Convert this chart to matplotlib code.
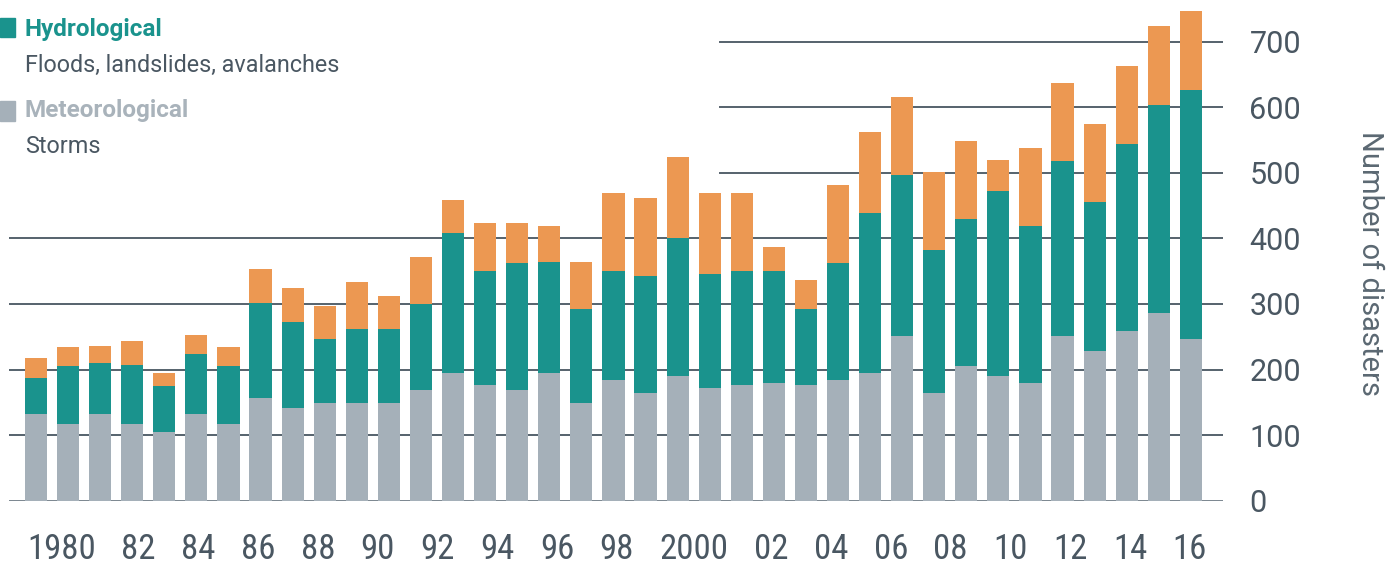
import matplotlib
matplotlib.use("Agg")
import matplotlib.pyplot as plt
from matplotlib.patches import Rectangle
from matplotlib import font_manager
import numpy as np

# ---------------- data ----------------
years = list(range(1980, 2017))
meteorological = [132, 117, 132, 117, 105, 132, 117, 157, 141, 149, 149, 149, 169, 195, 177, 169,
                  195, 149, 184, 164, 190, 172, 177, 180, 177, 184, 195, 251, 164, 205, 190, 180,
                  251, 228, 259, 286, 247]
hydrological = [55, 88, 78, 90, 70, 92, 88, 145, 132, 98, 113, 113, 131, 213, 173, 194,
                169, 143, 166, 179, 211, 174, 173, 170, 115, 179, 244, 245, 218, 224, 282, 239,
                267, 228, 285, 318, 379]
climatological = [31, 29, 26, 37, 20, 29, 29, 51, 51, 50, 72, 50, 72, 51, 74, 61,
                  55, 72, 119, 119, 123, 123, 119, 37, 44, 119, 123, 120, 119, 119, 48, 119,
                  119, 119, 119, 120, 121]
tick_years = list(range(1980, 2017, 2))
tick_labels = ["1980", "82", "84", "86", "88", "90", "92", "94", "96", "98",
               "2000", "02", "04", "06", "08", "10", "12", "14", "16"]
y_ticks = [0, 100, 200, 300, 400, 500, 600, 700]

# ---------------- style ----------------
W, H = 1395, 565
C_GRAY = "#a5b0b9"
C_TEAL = "#1a938d"
C_ORANGE = "#ec9852"
C_TEXT = "#4a5762"
C_GRID = "#55626c"

names = {f.name for f in font_manager.fontManager.ttflist}
BASE = "Roboto" if "Roboto" in names else "DejaVu Sans"
NARROW = None
for cand in ["Roboto Condensed", "Liberation Sans Narrow", "Arial Narrow"]:
    if cand in names:
        NARROW = cand
        break
plt.rcParams["font.family"] = [BASE, "DejaVu Sans"]

fig = plt.figure(figsize=(W / 100, H / 100), dpi=100)
ax_left, ax_right = 9, 1223
ax_bottom_px = 500.7
px_per_unit = 0.6557
ymax = 760
ax = fig.add_axes([ax_left / W, (H - ax_bottom_px) / H,
                   (ax_right - ax_left) / W, ymax * px_per_unit / H])

x = np.array(years, dtype=float)
m = np.array(meteorological)
h = np.array(hydrological)
c = np.array(climatological)
bw = 0.69
ax.bar(x, m, width=bw, color=C_GRAY, zorder=2, linewidth=0)
ax.bar(x, h, width=bw, bottom=m, color=C_TEAL, zorder=2, linewidth=0)
ax.bar(x, c, width=bw, bottom=m + h, color=C_ORANGE, zorder=2, linewidth=0)

ax.set_xlim(1980 + (ax_left - 36) / 32.08, 1980 + (ax_right - 36) / 32.08)
ax.set_ylim(0, ymax)

for s in ax.spines.values():
    s.set_visible(False)

# gridlines (upper ones start right of the legend)
for v in y_ticks:
    if v == 0:
        ax.axhline(v, color="#6f7b85", lw=2.0, zorder=1)
    elif v <= 400:
        ax.axhline(v, color=C_GRID, lw=1.4, zorder=1)
    else:
        ax.axhline(v, xmin=(720 - ax_left) / (ax_right - ax_left), color=C_GRID, lw=1.4, zorder=1)

# y axis on the right
ax.yaxis.tick_right()
ax.set_yticks(y_ticks)
ax.set_yticklabels([str(v) for v in y_ticks])
ax.tick_params(axis="y", length=0, pad=19, labelsize=22, labelcolor=C_TEXT)
ax.text(1.121, 0.477, "Number of disasters", transform=ax.transAxes, rotation=270,
        ha="center", va="center", fontsize=21, color="#5b6872")

# x tick labels: laid out as a justified line of text from left to right
xfont = NARROW if NARROW else BASE
xsize = 25 if NARROW else 22
fig.canvas.draw()
renderer = fig.canvas.get_renderer()
fp = font_manager.FontProperties(family=[xfont, "DejaVu Sans"], size=xsize)
widths = [renderer.get_text_width_height_descent(t, fp, ismath=False)[0] for t in tick_labels]
left_px, right_px = 27, 1207
gap = (right_px - left_px - sum(widths)) / (len(tick_labels) - 1)
centers_px = []
cur = left_px
for wdt in widths:
    centers_px.append(cur + wdt / 2)
    cur += wdt + gap
inv = ax.transData.inverted()
tick_pos = [inv.transform((cx, 0))[0] for cx in centers_px]
ax.set_xticks(tick_pos)
ax.set_xticklabels(tick_labels)
for t in ax.get_xticklabels():
    t.set_fontproperties(fp)
    t.set_color(C_TEXT)
ax.tick_params(axis="x", length=0, pad=23)

# legend
def fy(px):
    return 1 - px / H

fig.patches.append(Rectangle((0, fy(37)), 15 / W, 19 / H, transform=fig.transFigure,
                             color=C_TEAL, zorder=5))
fig.patches.append(Rectangle((0, fy(121)), 15 / W, 20 / H, transform=fig.transFigure,
                             color=C_GRAY, zorder=5))
fig.text(25 / W, fy(36), "Hydrological", fontsize=17.5, fontweight="bold", color=C_TEAL,
         ha="left", va="baseline")
fig.text(25 / W, fy(72), "Floods, landslides, avalanches", fontsize=16.8, color=C_TEXT,
         ha="left", va="baseline")
fig.text(25 / W, fy(117), "Meteorological", fontsize=17.5, fontweight="bold", color="#a9b3bb",
         ha="left", va="baseline")
fig.text(25 / W, fy(153), "Storms", fontsize=16.8, color=C_TEXT, ha="left", va="baseline")

fig.savefig("out.png", dpi=100)
